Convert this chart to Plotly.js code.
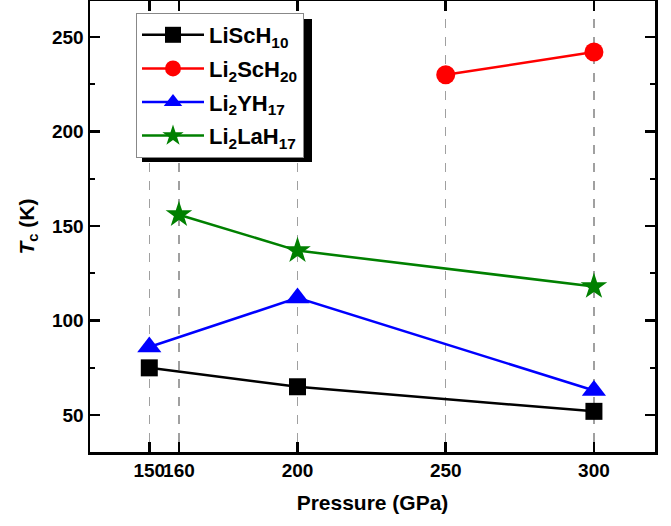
<!DOCTYPE html>
<html>
<head>
<meta charset="utf-8">
<script src="https://cdn.plot.ly/plotly-3.0.1.min.js"></script>
<style>html,body{margin:0;padding:0;background:#fff;}#chart{width:671px;height:526px;}</style>
</head>
<body>
<div id="chart"></div>
<script>
const names = ['LiScH<sub>10</sub>', 'Li<sub>2</sub>ScH<sub>20</sub>', 'Li<sub>2</sub>YH<sub>17</sub>', 'Li<sub>2</sub>LaH<sub>17</sub>'];
const xLiScH10 = [150, 200, 300];
const yLiScH10 = [75, 65, 52];
const xLi2ScH20 = [250, 300];
const yLi2ScH20 = [230, 242];
const xLi2YH17 = [150, 200, 300];
const yLi2YH17 = [86, 112, 63];
const xLi2LaH17 = [160, 200, 300];
const yLi2LaH17 = [156, 137, 118];
const xTicks = [150, 160, 200, 250, 300];
const yTicks = [50, 100, 150, 200, 250];

const colors = ['#000000', '#ff0000', '#0000ff', '#008000'];
const symbols = ['square', 'circle', 'triangle-up', 'star'];
const sizes = [17, 19, 21, 20];
const xs = [xLiScH10, xLi2ScH20, xLi2YH17, xLi2LaH17];
const ys = [yLiScH10, yLi2ScH20, yLi2YH17, yLi2LaH17];

const traces = names.map((n, i) => ({
  x: xs[i], y: ys[i], name: n, type: 'scatter', mode: 'lines+markers',
  legendgroup: 'g' + i,
  line: {color: colors[i], width: 2.5},
  marker: {color: colors[i], symbol: symbols[i], size: sizes[i], line: {width: 0}}
}));

const fam = 'Liberation Sans, Arial, sans-serif';
const axisCommon = {
  showline: true, linecolor: '#000', linewidth: 2.5, mirror: 'ticks',
  ticks: 'inside', ticklen: 10, tickwidth: 2.5, tickcolor: '#000',
  zeroline: false, tickangle: 0,
  tickfont: {family: fam, size: 19, color: '#000', weight: 'bold'}
};

const lx0 = (136 - 90) / 565, ly0 = (452 - 13) / 451;
const layout = {
  width: 671, height: 526,
  margin: {l: 90, r: 16, t: 1, b: 74},
  paper_bgcolor: '#fff', plot_bgcolor: '#fff',
  font: {family: fam, size: 16, color: '#000'},
  showlegend: true,
  xaxis: Object.assign({}, axisCommon, {
    range: [130, 320.6],
    tickvals: xTicks, ticktext: xTicks.map(String),
    showgrid: true, gridcolor: '#a0a0a0', griddash: 'dash', gridwidth: 1.5,
    title: {text: 'Pressure (GPa)', font: {family: fam, size: 21, color: '#000', weight: 'bold'}, standoff: 15}
  }),
  yaxis: Object.assign({}, axisCommon, {
    range: [30.5, 269],
    tickvals: yTicks,
    showgrid: false,
    minor: {tickvals: [75, 125, 175, 225], ticks: 'inside', ticklen: 5, tickwidth: 2, tickcolor: '#000'},
    title: {text: '<i>T</i><sub>c</sub> (K)', font: {family: fam, size: 21, color: '#000', weight: 'bold'}, standoff: 12}
  }),
  legend: {
    x: lx0, y: ly0, xanchor: 'left', yanchor: 'top',
    bgcolor: '#fff', bordercolor: '#888', borderwidth: 1,
    font: {family: fam, size: 22, color: '#000', weight: 'bold'},
    itemwidth: 62, tracegroupgap: 2
  },
  shapes: [{
    type: 'rect', xref: 'paper', yref: 'paper', layer: 'below',
    x0: (142 - 90) / 565, x1: (312 - 90) / 565,
    y0: (452 - 162) / 451, y1: (452 - 19) / 451,
    fillcolor: '#000', line: {width: 0}
  }]
};

Plotly.newPlot('chart', traces, layout, {displayModeBar: false, staticPlot: true});
</script>
</body>
</html>
